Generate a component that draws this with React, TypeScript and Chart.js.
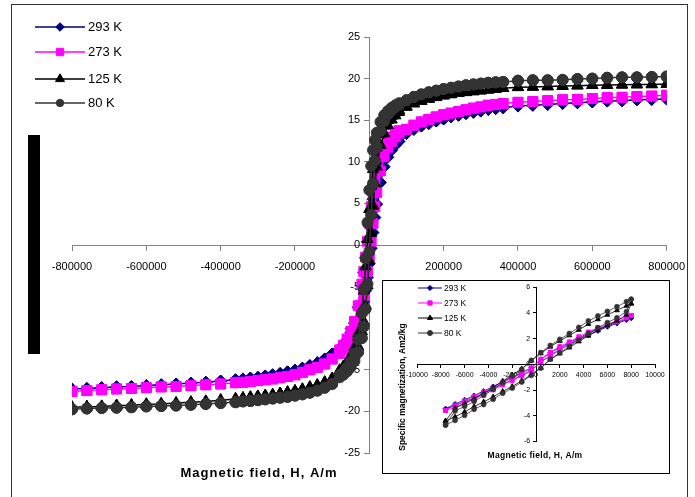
import React, { useEffect, useRef } from 'react';
import { Chart, registerables } from 'chart.js';

Chart.register(...registerables);

const FONT = '"Liberation Sans", Arial, Helvetica, sans-serif';

// ---------- Legend / series labels ----------
const seriesLabels = ['293 K', '273 K', '125 K', '80 K'];

// ---------- Main chart (A/m, Am2/kg) ----------
const satNegH = [-800000, -760000, -720000, -680000, -640000, -600000, -560000, -520000, -480000, -440000, -400000, -360000, -340000, -320000, -300000, -280000, -260000, -240000, -220000, -200000, -180000, -160000, -140000, -120000, -100000];
const coreH = [-80000, -70000, -60000, -50000, -40000, -30000, -20000, -15000, -10000, -5000, 0, 5000, 10000, 15000, 20000, 30000, 40000, 50000, 60000, 70000, 80000];
const satPosH = [100000, 120000, 140000, 160000, 180000, 200000, 220000, 240000, 260000, 280000, 300000, 320000, 340000, 360000, 400000, 440000, 480000, 520000, 560000, 600000, 640000, 680000, 720000, 760000, 800000];

// 293 K
const satNeg293 = [-17.3, -17.25, -17.15, -17.05, -17.0, -16.9, -16.8, -16.7, -16.6, -16.5, -16.35, -16.2, -16.1, -16.0, -15.9, -15.75, -15.6, -15.45, -15.25, -15.05, -14.8, -14.5, -14.15, -13.7, -13.1];
const coreDown293 = [-12.45, -12.0, -11.4, -10.55, -9.4, -7.5, -4.9, -3.3, -1.5, 0.4, 2.25, 3.9, 5.5, 6.8, 7.9, 9.6, 10.75, 11.55, 12.1, 12.55, 12.9];
const coreUp293 = [-12.9, -12.55, -12.1, -11.55, -10.75, -9.6, -7.9, -6.8, -5.5, -3.9, -2.25, -0.4, 1.5, 3.3, 4.9, 7.5, 9.4, 10.55, 11.4, 12.0, 12.45];
const satPos293 = [13.4, 13.9, 14.3, 14.6, 14.9, 15.15, 15.4, 15.6, 15.8, 15.95, 16.1, 16.3, 16.4, 16.5, 16.7, 16.8, 16.9, 17.0, 17.1, 17.2, 17.3, 17.35, 17.45, 17.5, 17.55];

// 273 K
const satNeg273 = [-17.6, -17.5, -17.4, -17.3, -17.25, -17.15, -17.05, -17.0, -16.9, -16.8, -16.7, -16.55, -16.5, -16.4, -16.3, -16.2, -16.1, -15.95, -15.8, -15.6, -15.3, -15.0, -14.7, -14.3, -13.7];
const coreDown273 = [-12.6, -12.05, -11.3, -10.4, -9.2, -7.3, -4.7, -3.2, -1.45, 0.45, 2.6, 4.6, 6.3, 7.7, 8.9, 10.65, 11.75, 12.45, 13.0, 13.45, 13.75];
const coreUp273 = [-13.05, -12.6, -12.05, -11.3, -10.4, -9.2, -7.3, -6.1, -4.7, -3.2, -1.45, 0.45, 2.6, 4.6, 6.3, 8.9, 10.65, 11.75, 12.45, 13.0, 13.45];
const satPos273 = [13.9, 14.4, 14.8, 15.1, 15.4, 15.65, 15.85, 16.05, 16.25, 16.45, 16.6, 16.8, 16.9, 17.0, 17.15, 17.25, 17.35, 17.45, 17.5, 17.6, 17.7, 17.75, 17.85, 17.9, 18.0];

// 125 K
const satNeg125 = [-19.5, -19.45, -19.4, -19.3, -19.25, -19.15, -19.1, -19.0, -18.9, -18.8, -18.65, -18.5, -18.4, -18.3, -18.2, -18.1, -18.0, -17.85, -17.7, -17.55, -17.35, -17.1, -16.85, -16.5, -16.05];
const coreDown125 = [-15.05, -14.6, -14.05, -13.3, -12.3, -10.6, -7.8, -5.5, -2.6, 0.7, 4.3, 7.1, 9.1, 10.6, 11.7, 13.3, 14.3, 15.0, 15.5, 15.9, 16.2];
const coreUp125 = [-15.4, -15.0, -14.55, -14.0, -13.25, -12.2, -10.4, -9.2, -7.3, -4.9, -1.9, 1.4, 4.7, 7.4, 9.4, 12.0, 13.4, 14.4, 15.05, 15.55, 15.95];
const satPos125 = [16.6, 17.0, 17.3, 17.55, 17.75, 17.95, 18.1, 18.25, 18.35, 18.45, 18.55, 18.65, 18.75, 18.85, 18.95, 19.0, 19.05, 19.1, 19.15, 19.2, 19.22, 19.25, 19.28, 19.3, 19.35];

// 80 K
const satNeg80 = [-19.75, -19.65, -19.6, -19.55, -19.5, -19.4, -19.35, -19.3, -19.2, -19.1, -19.0, -18.9, -18.8, -18.75, -18.65, -18.55, -18.45, -18.35, -18.25, -18.1, -17.95, -17.75, -17.5, -17.15, -16.7];
const coreDown80 = [-15.65, -15.28, -14.72, -14.04, -13.02, -11.36, -8.2, -5.3, -1.6, 2.7, 6.6, 9.5, 11.4, 12.6, 13.5, 14.8, 15.6, 16.1, 16.5, 16.8, 17.05];
const coreUp80 = [-15.9, -15.6, -15.2, -14.65, -13.95, -12.9, -11.2, -9.8, -7.7, -4.7, -0.8, 3.6, 7.4, 10.1, 11.8, 13.7, 14.9, 15.7, 16.2, 16.55, 16.85];
const satPos80 = [17.4, 17.8, 18.1, 18.35, 18.55, 18.75, 18.9, 19.05, 19.2, 19.3, 19.4, 19.5, 19.55, 19.6, 19.75, 19.8, 19.8, 19.85, 19.95, 20.0, 20.1, 20.15, 20.15, 20.2, 20.25];

// ---------- Inset chart (low-field loops) ----------
const insetH = [-7600, -6800, -6000, -5200, -4400, -3600, -2800, -2000, -1200, -400, 400, 1200, 2000, 2800, 3600, 4400, 5200, 6000, 6800, 7600, 8000];
const insetDown293 = [-3.45, -3.08, -2.76, -2.42, -2.08, -1.72, -1.36, -1.0, -0.66, -0.27, 0.38, 0.9, 1.32, 1.68, 2.06, 2.42, 2.74, 2.98, 3.26, 3.52, 3.6];
const insetUp293 = [-3.45, -3.22, -2.9, -2.6, -2.26, -1.9, -1.54, -1.2, -0.86, -0.48, 0.18, 0.66, 1.14, 1.54, 1.92, 2.26, 2.6, 2.92, 3.18, 3.45, 3.6];
const insetDown273 = [-3.58, -3.18, -2.85, -2.5, -2.15, -1.78, -1.42, -1.05, -0.7, -0.3, 0.4, 0.95, 1.38, 1.75, 2.15, 2.52, 2.85, 3.1, 3.4, 3.7, 3.8];
const insetUp273 = [-3.58, -3.35, -3.0, -2.7, -2.35, -1.98, -1.6, -1.25, -0.9, -0.5, 0.2, 0.7, 1.2, 1.6, 2.0, 2.35, 2.72, 3.05, 3.3, 3.6, 3.8];
const insetDown125 = [-4.4, -3.4, -3.05, -2.68, -2.25, -1.8, -1.3, -0.82, -0.35, 0.28, 0.85, 1.37, 1.82, 2.25, 2.68, 3.13, 3.5, 3.85, 4.2, 4.55, 4.72];
const insetUp125 = [-4.4, -4.08, -3.7, -3.28, -2.92, -2.53, -2.1, -1.72, -1.28, -0.8, -0.28, 0.37, 0.84, 1.3, 1.78, 2.23, 2.65, 3.03, 3.38, 3.85, 4.72];
const insetDown80 = [-4.72, -3.62, -3.27, -2.88, -2.42, -1.95, -1.42, -0.9, -0.4, 0.3, 0.92, 1.47, 1.95, 2.4, 2.88, 3.37, 3.76, 4.12, 4.48, 4.87, 5.06];
const insetUp80 = [-4.72, -4.36, -3.97, -3.5, -3.13, -2.72, -2.25, -1.85, -1.38, -0.86, -0.3, 0.4, 0.9, 1.4, 1.9, 2.4, 2.85, 3.25, 3.62, 4.1, 5.06];

// ---------- axis ticks ----------
const mainXMin = -800000, mainXMax = 800000, mainXStep = 200000;
const mainYMin = -25, mainYMax = 25, mainYStep = 5;
const insetXMin = -10000, insetXMax = 10000, insetXStep = 2000;
const insetYMin = -6, insetYMax = 6, insetYStep = 2;

const xTitle = 'Magnetic field, H, A/m';
const insetYTitle = 'Specific magnetization, Am2/kg';

// ---------- styles ----------
const colors = ['#000080', '#FF00FF', '#000000', '#333333'];
const pointStyles = ['rectRot', 'rect', 'triangle', 'circle'];
const mainRadius = [6, 7, 6.5, 5.5];
const insetRadius = [2.5, 2.9, 2.9, 2.4];
const legendRadius = [4.3, 5.2, 5.2, 3.7];
const insetLegendRadius = [2.6, 3.0, 3.0, 2.5];
const drawOrder = [3, 2, 1, 0];

type Pt = { x: number; y: number };

function buildMainLoop(satNeg: number[], coreDown: number[], coreUp: number[], satPos: number[]): Pt[] {
  const pts: Pt[] = [];
  for (let i = satPosH.length - 1; i >= 0; i--) pts.push({ x: satPosH[i], y: satPos[i] });
  for (let i = coreH.length - 1; i >= 0; i--) pts.push({ x: coreH[i], y: coreDown[i] });
  for (let i = satNegH.length - 1; i >= 0; i--) pts.push({ x: satNegH[i], y: satNeg[i] });
  satNegH.forEach((h, i) => pts.push({ x: h, y: satNeg[i] }));
  coreH.forEach((h, i) => pts.push({ x: h, y: coreUp[i] }));
  satPosH.forEach((h, i) => pts.push({ x: h, y: satPos[i] }));
  return pts;
}

function buildInsetLoop(down: number[], up: number[]): Pt[] {
  const pts: Pt[] = [];
  for (let i = insetH.length - 1; i >= 0; i--) pts.push({ x: insetH[i], y: down[i] });
  insetH.forEach((h, i) => pts.push({ x: h, y: up[i] }));
  return pts;
}

function drawMarker(ctx: CanvasRenderingContext2D, style: string, x: number, y: number, r: number, color: string) {
  ctx.save();
  ctx.fillStyle = color;
  ctx.strokeStyle = color;
  ctx.lineWidth = 1;
  ctx.beginPath();
  if (style === 'circle') {
    ctx.arc(x, y, r, 0, Math.PI * 2);
  } else if (style === 'rect') {
    const s = r * Math.SQRT1_2;
    ctx.rect(x - s, y - s, 2 * s, 2 * s);
  } else if (style === 'rectRot') {
    ctx.moveTo(x, y - r);
    ctx.lineTo(x + r, y);
    ctx.lineTo(x, y + r);
    ctx.lineTo(x - r, y);
    ctx.closePath();
  } else {
    for (let k = 0; k < 3; k++) {
      const a = -Math.PI / 2 + (k * 2 * Math.PI) / 3;
      const px = x + Math.cos(a) * r;
      const py = y + Math.sin(a) * r;
      if (k === 0) ctx.moveTo(px, py);
      else ctx.lineTo(px, py);
    }
    ctx.closePath();
  }
  ctx.fill();
  ctx.stroke();
  ctx.restore();
}

function drawLegend(ctx: CanvasRenderingContext2D, rows: number[], x0: number, x1: number, textX: number, fontSize: number, lineW: number, radii: number[]) {
  seriesLabels.forEach((label, i) => {
    const y = rows[i];
    ctx.save();
    ctx.strokeStyle = colors[i];
    ctx.lineWidth = lineW;
    ctx.beginPath();
    ctx.moveTo(x0, y);
    ctx.lineTo(x1, y);
    ctx.stroke();
    ctx.restore();
    drawMarker(ctx, pointStyles[i], (x0 + x1) / 2, y, radii[i], colors[i]);
    ctx.save();
    ctx.fillStyle = '#000';
    ctx.font = `${fontSize}px ${FONT}`;
    ctx.textAlign = 'left';
    ctx.textBaseline = 'middle';
    ctx.fillText(label, textX, y + 0.5);
    ctx.restore();
  });
}

const mainOverlay = {
  id: 'mainOverlay',
  afterDraw(chart: any) {
    const ctx: CanvasRenderingContext2D = chart.ctx;
    drawLegend(ctx, [27, 52, 79, 103], 35, 85, 88, 13, 1.5, legendRadius);
    ctx.save();
    ctx.fillStyle = '#000';
    ctx.font = `bold 13px ${FONT}`;
    (ctx as any).letterSpacing = '1px';
    ctx.textAlign = 'center';
    ctx.textBaseline = 'alphabetic';
    ctx.fillText(xTitle, 259, 477);
    ctx.restore();
  },
};

const insetOverlay = {
  id: 'insetOverlay',
  afterDraw(chart: any) {
    const ctx: CanvasRenderingContext2D = chart.ctx;
    drawLegend(ctx, [7, 22, 37, 52], 35, 59, 61, 8.5, 1, insetLegendRadius);
    ctx.save();
    ctx.fillStyle = '#000';
    ctx.font = `bold 8.5px ${FONT}`;
    (ctx as any).letterSpacing = '0.3px';
    ctx.textAlign = 'center';
    ctx.textBaseline = 'middle';
    ctx.fillText(xTitle, 152, 175);
    ctx.translate(20, 106);
    ctx.rotate(-Math.PI / 2);
    (ctx as any).letterSpacing = '0px';
    ctx.fillText(insetYTitle, 0, 0);
    ctx.restore();
  },
};

// Chart.js draws labels of an axis placed at {x: 0} flush against the axis line;
// trailing no-break spaces give the gap the tick marks need.
function axisCfg(min: number, max: number, step: number, pos: any, fontSize: number, padding: number, tickLen: number, color: string, trail: string) {
  return {
    type: 'linear' as const,
    position: pos,
    min,
    max,
    ticks: {
      stepSize: step,
      autoSkip: false,
      maxRotation: 0,
      color: '#000',
      padding,
      font: { family: FONT, size: fontSize },
      callback: (v: any) => String(v) + trail,
    },
    grid: { drawOnChartArea: false, drawTicks: true, tickLength: tickLen, color, lineWidth: 1 },
    border: { display: true, color, width: 1 },
  };
}

const NB3 = '\u00A0\u00A0\u00A0';

export default function App() {
  const mainRef = useRef<HTMLCanvasElement | null>(null);
  const insetRef = useRef<HTMLCanvasElement | null>(null);

  useEffect(() => {
    const mainLoops = [
      buildMainLoop(satNeg293, coreDown293, coreUp293, satPos293),
      buildMainLoop(satNeg273, coreDown273, coreUp273, satPos273),
      buildMainLoop(satNeg125, coreDown125, coreUp125, satPos125),
      buildMainLoop(satNeg80, coreDown80, coreUp80, satPos80),
    ];
    const insetLoops = [
      buildInsetLoop(insetDown293, insetUp293),
      buildInsetLoop(insetDown273, insetUp273),
      buildInsetLoop(insetDown125, insetUp125),
      buildInsetLoop(insetDown80, insetUp80),
    ];

    const main = new Chart(mainRef.current as HTMLCanvasElement, {
      type: 'scatter',
      data: {
        datasets: mainLoops.map((d, i) => ({
          label: seriesLabels[i],
          data: d,
          showLine: true,
          borderColor: colors[i],
          backgroundColor: colors[i],
          borderWidth: 1.5,
          pointStyle: pointStyles[i] as any,
          pointRadius: mainRadius[i],
          pointBorderWidth: 1,
          pointBorderColor: colors[i],
          pointBackgroundColor: colors[i],
          order: drawOrder[i],
        })),
      },
      options: {
        responsive: false,
        animation: false,
        events: [],
        layout: { padding: { left: 72, right: 28, top: 37, bottom: 44 } },
        plugins: { legend: { display: false }, tooltip: { enabled: false } },
        scales: {
          x: axisCfg(mainXMin, mainXMax, mainXStep, { y: 0 }, 11, 10, 5, '#808080', '') as any,
          y: axisCfg(mainYMin, mainYMax, mainYStep, { x: 0 }, 11, 4, 5, '#808080', NB3) as any,
        },
      },
      plugins: [mainOverlay],
    });

    const inset = new Chart(insetRef.current as HTMLCanvasElement, {
      type: 'scatter',
      data: {
        datasets: insetLoops.map((d, i) => ({
          label: seriesLabels[i],
          data: d,
          showLine: true,
          borderColor: colors[i],
          backgroundColor: colors[i],
          borderWidth: 0.8,
          pointStyle: pointStyles[i] as any,
          pointRadius: insetRadius[i],
          pointBorderWidth: 0.8,
          pointBorderColor: colors[i],
          pointBackgroundColor: colors[i],
          order: drawOrder[i],
        })),
      },
      options: {
        responsive: false,
        animation: false,
        events: [],
        layout: { padding: { left: 34, right: 14, top: 5.5, bottom: 31.5 } },
        plugins: { legend: { display: false }, tooltip: { enabled: false } },
        scales: {
          x: axisCfg(insetXMin, insetXMax, insetXStep, { y: 0 }, 7, 4, 3, '#000', '') as any,
          y: axisCfg(insetYMin, insetYMax, insetYStep, { x: 0 }, 7, 2, 3, '#000', NB3) as any,
        },
      },
      plugins: [insetOverlay],
    });

    return () => {
      main.destroy();
      inset.destroy();
    };
  }, []);

  return (
    <div style={{ position: 'absolute', left: 0, top: 0, width: 695, height: 497, overflow: 'hidden', background: '#fff' }}>
      <canvas ref={mainRef} width={695} height={497} style={{ position: 'absolute', left: 0, top: 0, width: 695, height: 497 }} />
      <div style={{ position: 'absolute', left: 11, top: 4, width: 675, height: 600, border: '1px solid #333', pointerEvents: 'none' }} />
      <div style={{ position: 'absolute', left: 28, top: 135, width: 12, height: 219, background: '#000' }} />
      <div style={{ position: 'absolute', left: 382, top: 280, width: 286, height: 192, border: '1px solid #000', background: '#fff' }}>
        <canvas ref={insetRef} width={286} height={192} style={{ position: 'absolute', left: 0, top: 0, width: 286, height: 192 }} />
      </div>
    </div>
  );
}
